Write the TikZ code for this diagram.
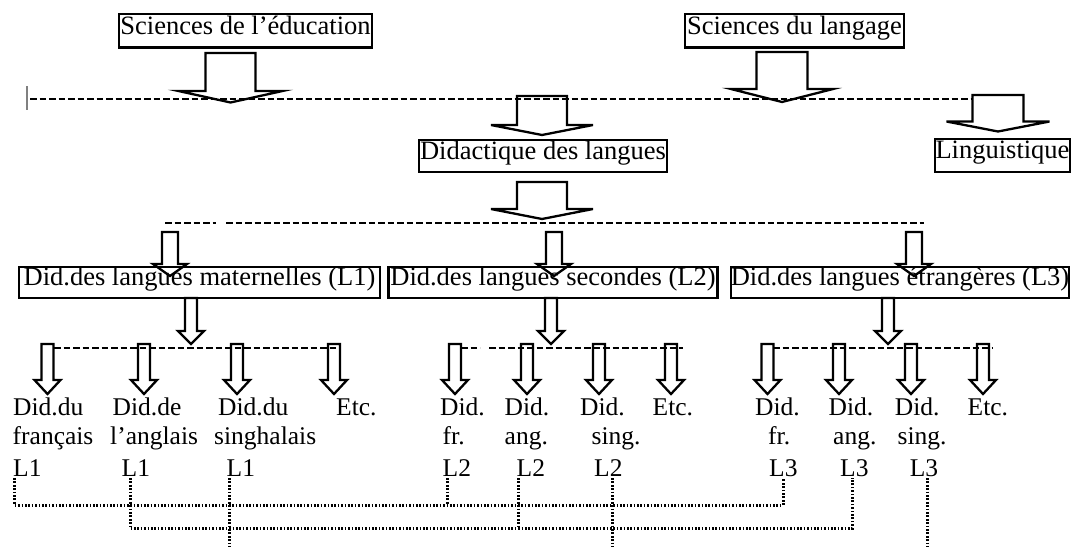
\documentclass[tikz,border=0pt]{standalone}
\usepackage{fontspec}
\setmainfont{Liberation Serif}
% hollow down arrow: centre x, top y, wing y, tip y, half shaft width, half head width
\newcommand{\hollowdown}[6]{%
  \draw[blockarrow] (#1-#5,#2) -- (#1-#5,#3) -- (#1-#6,#3) -- (#1,#4)
    -- (#1+#6,#3) -- (#1+#5,#3) -- (#1+#5,#2) -- cycle;}
\begin{document}
\begin{tikzpicture}[x=1pt,y=-1pt,
  txt/.style={font=\fontsize{26.5}{30}\selectfont},
  box/.style={txt,draw,line width=2.3pt,inner sep=0pt,text height=0.86em,text depth=0.2em},
  lbl/.style={font=\fontsize{25.5}{30}\selectfont,inner sep=0pt,anchor=base west},
  blockarrow/.style={draw,line width=2.3pt,line join=miter},
  dashline/.style={line width=2pt,dash pattern=on 6.5pt off 3pt},
  dotline/.style={line width=3pt,dash pattern=on 1.7pt off 1.7pt}]
\useasboundingbox (0,0) rectangle (1071,547);

% ---- top level ----
\node[box,minimum width=253pt,minimum height=33.5pt] (sciedu) at (245.5,30.75) {Sciences de l’éducation};
\node[box,minimum width=219pt,minimum height=33.5pt] (scilang) at (794.5,30.75) {Sciences du langage};

\hollowdown{230.5}{53}{91}{102.5}{25}{52}
\hollowdown{782}{52}{89}{102}{25.5}{51}

\draw[line width=1.6pt,gray] (27,86) -- (27,110);
\coordinate (d1a) at (30,99);
\coordinate (d1b) at (972.5,99);
\draw[dashline] (d1a) -- (d1b);

\hollowdown{998}{95}{121.5}{131.5}{25.5}{51.5}
\hollowdown{542}{96}{125}{135}{25}{51}

\node[box,minimum width=248pt,minimum height=32pt] (didac) at (543,156) {Didactique des langues};
\node[box,minimum width=135pt,minimum height=33pt] (ling) at (1002.5,155.5) {Linguistique};

\hollowdown{542}{182}{209}{219}{25}{51}

\coordinate (d2a) at (165,223);
\coordinate (d2b) at (216,223);
\coordinate (d2c) at (226,223);
\coordinate (d2d) at (924,223);
\draw[dashline] (d2a) -- (d2b);
\draw[dashline] (d2c) -- (d2d);

% ---- second level ----
\node[box,minimum width=361pt,minimum height=31pt] (lmat) at (199.5,282.5) {Did.des langues maternelles (L1)};
\node[box,minimum width=329pt,minimum height=31pt] (lsec) at (553,282.5) {Did.des langues secondes (L2)};
\node[box,minimum width=338pt,minimum height=31pt] (letr) at (900,282.5) {Did.des langues étrangères (L3)};

\hollowdown{170}{232}{264}{276}{8}{17}
\hollowdown{554}{232}{264}{276}{8}{17}
\hollowdown{914}{232}{264}{276}{8}{17}

\hollowdown{191}{298}{331}{344}{6}{13}
\hollowdown{551}{298}{331}{344}{6}{13}
\hollowdown{888}{298}{331}{344}{6}{13}

% ---- third level ----
\coordinate (g1a) at (54,347.5);
\coordinate (g1b) at (341,347.5);
\draw[dashline] (g1a) -- (g1b);
\coordinate (g2a) at (461,347.5);
\coordinate (g2b) at (480,347.5);
\coordinate (g2c) at (489,347.5);
\coordinate (g2d) at (683,347.5);
\draw[dashline] (g2a) -- (g2b);
\draw[dashline] (g2c) -- (g2d);
\coordinate (g3a) at (773,347.5);
\coordinate (g3b) at (993,347.5);
\draw[dashline] (g3a) -- (g3b);

\foreach \cx in {47.5,144,237,334,455,527,599,671,767.5,839,911,983}{%
  \hollowdown{\cx}{344}{380}{394}{6}{13}}

% labels, row by row
\node[lbl] (a1) at (13,415) {Did.du};
\node[lbl] (b1) at (112.5,415) {Did.de};
\node[lbl] (c1) at (218,415) {Did.du};
\node[lbl] (e1) at (336,415) {Etc.};
\node[lbl] (f1) at (440,415) {Did.};
\node[lbl] (g1) at (504.5,415) {Did.};
\node[lbl] (h1) at (580,415) {Did.};
\node[lbl] (i1) at (652.5,415) {Etc.};
\node[lbl] (j1) at (755,415) {Did.};
\node[lbl] (k1) at (828.5,415) {Did.};
\node[lbl] (m1) at (894.7,415) {Did.};
\node[lbl] (n1) at (967.5,415) {Etc.};

\node[lbl] (a2) at (12.5,444.5) {français};
\node[lbl] (b2) at (110,444.5) {l’anglais};
\node[lbl] (c2) at (214,444.5) {singhalais};
\node[lbl] (f2) at (442.5,444.5) {fr.};
\node[lbl] (g2) at (504.5,444.5) {ang.};
\node[lbl] (h2) at (591.4,444.5) {sing.};
\node[lbl] (j2) at (768,444.5) {fr.};
\node[lbl] (k2) at (833,444.5) {ang.};
\node[lbl] (m2) at (897.5,444.5) {sing.};

\node[lbl] (a3) at (13,476) {L1};
\node[lbl] (b3) at (121.5,476) {L1};
\node[lbl] (c3) at (226.5,476) {L1};
\node[lbl] (f3) at (442.5,476) {L2};
\node[lbl] (g3) at (516.5,476) {L2};
\node[lbl] (h3) at (594,476) {L2};
\node[lbl] (j3) at (769,476) {L3};
\node[lbl] (k3) at (840,476) {L3};
\node[lbl] (m3) at (909.6,476) {L3};

% dotted links between the same language
\coordinate (fr1) at (14.5,478); \coordinate (fr2) at (447,478);  \coordinate (fr3) at (783,478);
\coordinate (an1) at (130,478);  \coordinate (an2) at (518,478);  \coordinate (an3) at (852,478);
\coordinate (si1) at (229.5,478); \coordinate (si2) at (612,478); \coordinate (si3) at (927,478);
\draw[dotline] (fr1) -- (fr1 |- 0,505) -- (fr3 |- 0,505) -- (fr3);
\draw[dotline] (fr2) -- (fr2 |- 0,505);
\draw[dotline] (an1) -- (an1 |- 0,528.5) -- (an3 |- 0,528.5) -- (an3);
\draw[dotline] (an2) -- (an2 |- 0,528.5);
\draw[dotline] (si1) -- (si1 |- 0,547);
\draw[dotline] (si2) -- (si2 |- 0,547);
\draw[dotline] (si3) -- (si3 |- 0,547);
\end{tikzpicture}
\end{document}
